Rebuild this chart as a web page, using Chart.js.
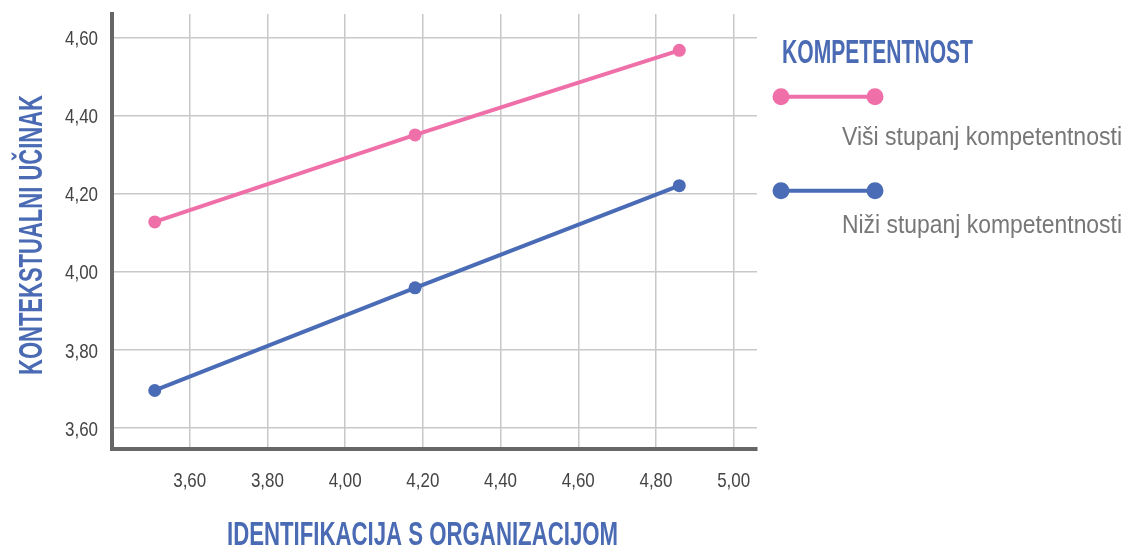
<!DOCTYPE html>
<html>
<head>
<meta charset="utf-8">
<script src="https://cdn.jsdelivr.net/npm/chart.js@4.4.1/dist/chart.umd.min.js"></script>
<style>
  html, body { margin: 0; padding: 0; background: #ffffff; }
  #wrap { width: 1127px; height: 547px; position: relative; }
</style>
</head>
<body>
<div id="wrap"><canvas id="c" width="1127" height="547"></canvas></div>
<script>
// ---- data ----
const xValues = [3.51, 4.18, 4.86];
const highCompetence = [4.127, 4.35, 4.567];
const lowCompetence = [3.695, 3.958, 4.22];
const seriesLabels = ['Viši stupanj kompetentnosti', 'Niži stupanj kompetentnosti'];
const legendTitle = 'KOMPETENTNOST';
const xTitle = 'IDENTIFIKACIJA S ORGANIZACIJOM';
const yTitle = 'KONTEKSTUALNI UČINAK';
const xTicks = [3.6, 3.8, 4.0, 4.2, 4.4, 4.6, 4.8, 5.0];
const yTicks = [3.6, 3.8, 4.0, 4.2, 4.4, 4.6];

const PINK = '#ef6fa9';
const BLUE = '#4a6bb5';
const TITLE_BLUE = '#4a6bb4';
const TICK_FONT = "21px 'Liberation Sans', 'Arial', sans-serif";

function fmt(v) { return v.toFixed(2).replace('.', ','); }

const overlayPlugin = {
  id: 'overlay',
  afterDraw(chart) {
    const ctx = chart.ctx;
    ctx.save();
    // tick labels (condensed, positioned by the library's scales)
    const xs = chart.scales.x, ys = chart.scales.y;
    ctx.fillStyle = '#444444';
    ctx.font = TICK_FONT;
    ctx.textBaseline = 'alphabetic';
    ctx.textAlign = 'center';
    xs.ticks.forEach(t => {
      ctx.fillText(fmt(t.value), xs.getPixelForValue(t.value), 487.3, 33);
    });
    ctx.textAlign = 'right';
    ys.ticks.forEach(t => {
      ctx.fillText(fmt(t.value), 98, ys.getPixelForValue(t.value) + 8, 33);
    });
    // axis titles
    ctx.fillStyle = TITLE_BLUE;
    ctx.font = "bold 33px 'Liberation Sans', 'Arial', sans-serif";
    ctx.textAlign = 'center';
    ctx.fillText(xTitle, 422.5, 545, 391);
    ctx.save();
    ctx.translate(42, 235);
    ctx.rotate(-Math.PI / 2);
    ctx.fillText(yTitle, 0, 0, 280);
    ctx.restore();
    // legend title
    ctx.textAlign = 'left';
    ctx.fillText(legendTitle, 782, 62.5, 191);
    // legend items
    const items = [
      { ds: chart.data.datasets[0], lineY: 96.7, textY: 145 },
      { ds: chart.data.datasets[1], lineY: 190.7, textY: 233 }
    ];
    items.forEach(it => {
      ctx.strokeStyle = it.ds.borderColor;
      ctx.lineWidth = 4;
      ctx.beginPath();
      ctx.moveTo(781, it.lineY);
      ctx.lineTo(875, it.lineY);
      ctx.stroke();
      ctx.fillStyle = it.ds.borderColor;
      [781, 875].forEach(cx => {
        ctx.beginPath();
        ctx.arc(cx, it.lineY, 8.5, 0, Math.PI * 2);
        ctx.fill();
      });
      ctx.fillStyle = '#777777';
      ctx.font = "25px 'Liberation Sans', 'Arial', sans-serif";
      ctx.textAlign = 'right';
      ctx.fillText(it.ds.label, 1122, it.textY, 280);
    });
    ctx.restore();
  }
};

const chart = new Chart(document.getElementById('c'), {
  type: 'line',
  data: {
    datasets: [
      {
        label: seriesLabels[0],
        data: xValues.map((x, i) => ({ x: x, y: highCompetence[i] })),
        borderColor: PINK,
        backgroundColor: PINK,
        borderWidth: 4,
        pointRadius: 6.5,
        pointBorderWidth: 0,
        pointBackgroundColor: PINK,
        tension: 0
      },
      {
        label: seriesLabels[1],
        data: xValues.map((x, i) => ({ x: x, y: lowCompetence[i] })),
        borderColor: BLUE,
        backgroundColor: BLUE,
        borderWidth: 4,
        pointRadius: 6.5,
        pointBorderWidth: 0,
        pointBackgroundColor: BLUE,
        tension: 0
      }
    ]
  },
  options: {
    responsive: false,
    animation: false,
    events: [],
    layout: { padding: { top: 14, right: 370, left: 0, bottom: 0 } },
    plugins: { legend: { display: false }, tooltip: { enabled: false }, title: { display: false } },
    scales: {
      x: {
        type: 'linear',
        min: 3.40,
        max: 5.06,
        afterBuildTicks: s => { s.ticks = xTicks.map(v => ({ value: v })); },
        afterFit: s => { s.height = 98; },
        grid: { color: '#c8c8c8', lineWidth: 1.5, drawTicks: false },
        border: { display: true, color: '#666666', width: 4 },
        ticks: { display: false }
      },
      y: {
        type: 'linear',
        min: 3.545,
        max: 4.66,
        afterBuildTicks: s => { s.ticks = yTicks.map(v => ({ value: v })); },
        afterFit: s => { s.width = 112; },
        grid: { color: '#c8c8c8', lineWidth: 1.5, drawTicks: false },
        border: { display: true, color: '#666666', width: 4 },
        ticks: { display: false }
      }
    }
  },
  plugins: [overlayPlugin]
});
</script>
</body>
</html>
